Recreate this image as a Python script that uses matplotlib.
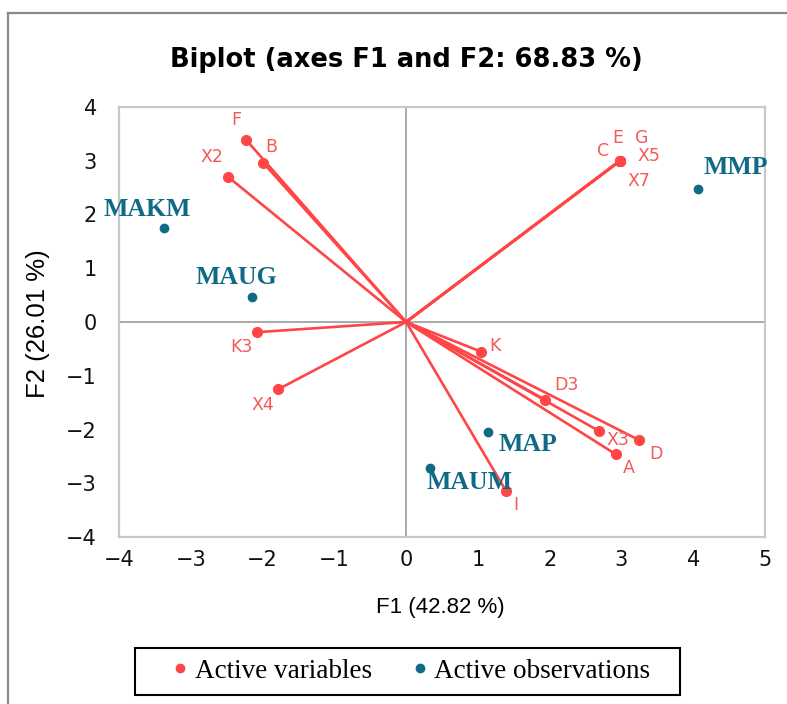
import matplotlib
matplotlib.use("Agg")
import matplotlib.pyplot as plt
from matplotlib.lines import Line2D
from matplotlib.patches import Rectangle

# ---------------- data ----------------
var_names = ["F", "B", "X2", "C", "E", "G", "X5", "X7", "K3", "X4", "K", "D3", "X3", "D", "A", "I"]
var_f1 = [-2.23, -1.99, -2.48, 2.98, 2.98, 2.98, 2.98, 2.98, -2.08, -1.78, 1.04, 1.94, 2.69, 3.25, 2.92, 1.39]
var_f2 = [3.39, 2.96, 2.70, 3.00, 3.00, 3.00, 3.00, 3.00, -0.19, -1.25, -0.55, -1.45, -2.03, -2.20, -2.46, -3.14]

obs_names = ["MMP", "MAKM", "MAUG", "MAP", "MAUM"]
obs_f1 = [4.07, -3.38, -2.15, 1.14, 0.33]
obs_f2 = [2.47, 1.75, 0.47, -2.05, -2.72]

x_ticks = [-4, -3, -2, -1, 0, 1, 2, 3, 4, 5]
y_ticks = [-4, -3, -2, -1, 0, 1, 2, 3, 4]

title = "Biplot (axes F1 and F2: 68.83 %)"
xlabel = "F1 (42.82 %)"
ylabel = "F2 (26.01 %)"
legend_labels = ["Active variables", "Active observations"]

# ---------------- style ----------------
RED = "#ff4545"
RED_TXT = "#f25a5a"
TEAL = "#0f6a85"

# label offsets in pixels (dx right, dy up)
var_off = {"F": (-10, 20), "B": (8, 16), "X2": (-16, 20), "C": (-17, 10), "E": (-2, 23),
           "G": (22, 23), "X5": (29, 5), "X7": (19, -20), "K3": (-15, -15), "X4": (-15, -16),
           "K": (14, 6), "D3": (21, 15), "X3": (19, -9), "D": (17, -14), "A": (13, -14), "I": (10, -14)}
obs_off = {"MMP": (38, 22), "MAKM": (-16, 18), "MAUG": (-15, 19), "MAP": (40, -12), "MAUM": (40, -14)}

W, H = 787, 704
fig = plt.figure(figsize=(W / 100, H / 100), dpi=100)
fig.patch.set_facecolor("white")

ax = fig.add_axes([119 / W, 1 - 537 / H, (765 - 119) / W, (537 - 107) / H])
ax.set_xlim(x_ticks[0], x_ticks[-1])
ax.set_ylim(y_ticks[0], y_ticks[-1])
ax.set_xticks(x_ticks)
ax.set_yticks(y_ticks)
ax.tick_params(length=0, labelsize=15, colors="#111111")
ax.tick_params(axis="x", pad=9)
ax.tick_params(axis="y", pad=16)
for lab in ax.get_xticklabels() + ax.get_yticklabels():
    lab.set_fontfamily("DejaVu Sans")
for s in ax.spines.values():
    s.set_color("#c8c8c8")
    s.set_linewidth(1.6)

ax.axhline(0, color="#a8a8a8", lw=1.4, zorder=1)
ax.axvline(0, color="#a8a8a8", lw=1.4, zorder=1)

# variable vectors
for n, x, y in zip(var_names, var_f1, var_f2):
    ax.plot([0, x], [0, y], color=RED, lw=1.9, zorder=3, solid_capstyle="round")
ax.plot(var_f1, var_f2, "o", color=RED, ms=7, zorder=4, ls="none")
for n, x, y in zip(var_names, var_f1, var_f2):
    dx, dy = var_off[n]
    ax.annotate(n, (x, y), xytext=(dx, dy), textcoords="offset pixels",
                ha="center", va="center", color=RED_TXT, fontsize=12.5,
                fontfamily="DejaVu Sans", zorder=5)

# observations
ax.plot(obs_f1, obs_f2, "o", color=TEAL, ms=6, zorder=4, ls="none")
for n, x, y in zip(obs_names, obs_f1, obs_f2):
    dx, dy = obs_off[n]
    ax.annotate(n, (x, y), xytext=(dx, dy), textcoords="offset pixels",
                ha="center", va="center", color=TEAL, fontsize=18.5,
                fontfamily="Liberation Serif", fontweight="bold", zorder=5)

# texts
fig.text(406 / W, 1 - 60 / H, title, ha="center", va="center", fontsize=18.5,
         fontweight="bold", fontfamily="DejaVu Sans")
fig.text(440 / W, 1 - 607 / H, xlabel, ha="center", va="center", fontsize=16,
         fontfamily="Liberation Sans")
fig.text(38 / W, 1 - 324 / H, ylabel, ha="center", va="center", fontsize=18.5,
         rotation=90, fontfamily="Liberation Sans")

# legend (frame drawn separately)
handles = [Line2D([], [], marker="o", ls="none", color=RED, ms=6),
           Line2D([], [], marker="o", ls="none", color=TEAL, ms=6)]
leg = fig.legend(handles, legend_labels, loc="center", bbox_to_anchor=(412 / W, 1 - 671 / H),
                 ncol=2, frameon=False, handlelength=0.5, handletextpad=0.3,
                 columnspacing=1.5, borderpad=0.3,
                 prop={"family": "Liberation Serif", "size": 19.5})
fig.add_artist(Rectangle((135 / W, 1 - 695 / H), (680 - 135) / W, (695 - 648) / H,
                         transform=fig.transFigure, fill=False, edgecolor="black", lw=1.5))

# outer border
fig.add_artist(Line2D([8 / W, 8 / W], [0, 1 - 13 / H], transform=fig.transFigure, color="#8a8a8a", lw=1.6))
fig.add_artist(Line2D([8 / W, 1], [1 - 13 / H, 1 - 13 / H], transform=fig.transFigure, color="#8a8a8a", lw=1.6))

fig.savefig("out.png", dpi=100)
